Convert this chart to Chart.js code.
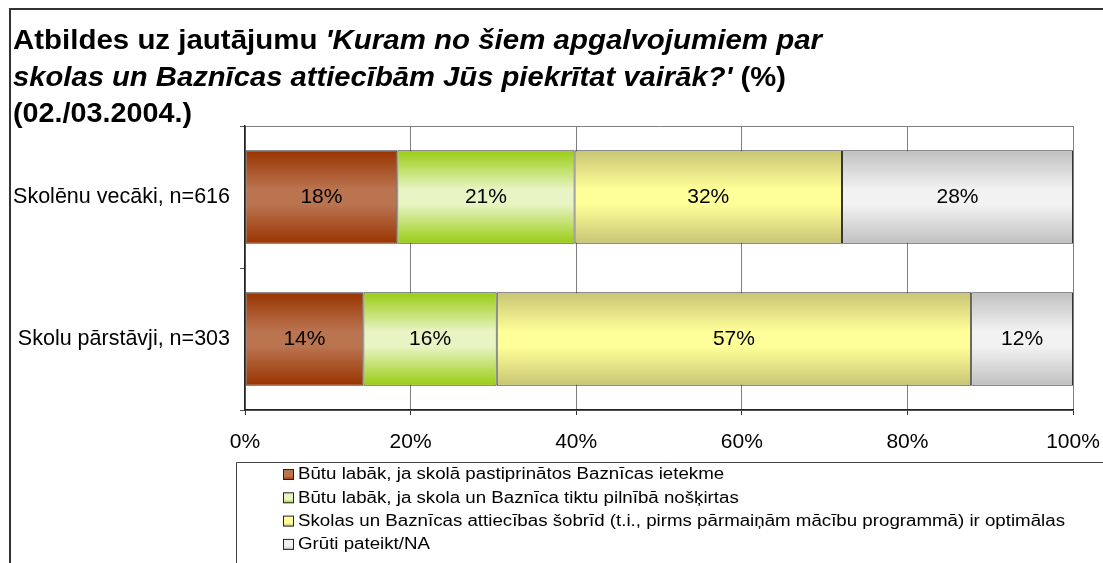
<!DOCTYPE html>
<html>
<head>
<meta charset="utf-8">
<script src="https://cdn.jsdelivr.net/npm/chart.js@4.4.1/dist/chart.umd.min.js"></script>
<style>
  body { margin: 0; background: #fff; }
  canvas { display: block; }
</style>
</head>
<body>
<canvas id="chart" width="1103" height="563"></canvas>
<script>
// dati
var groups = ["Skolēnu vecāki, n=616", "Skolu pārstāvji, n=303"];
var seriesNames = [
  "Būtu labāk, ja skolā pastiprinātos Baznīcas ietekme",
  "Būtu labāk, ja skola un Baznīca tiktu pilnībā nošķirtas",
  "Skolas un Baznīcas attiecības šobrīd (t.i., pirms pārmaiņām mācību programmā) ir optimālas",
  "Grūti pateikt/NA"
];
var stiprinat = [18.4, 14.3];
var noskirt = [21.4, 16.1];
var optimalas = [32.3, 57.3];
var grutiPateikt = [27.9, 12.3];
var xTicks = [0, 20, 40, 60, 80, 100];

var FONT = "'Liberation Sans', Arial, sans-serif";
var BAR_PCT = 0.66;

// krāsas: mala, vidus
var colors = [
  ["#993300", "#ba7450"],
  ["#99cc11", "#e8f4c4"],
  ["#c8c474", "#ffff99"],
  ["#c0c0c0", "#f2f2f2"]
];

function barGradient(pair) {
  return function(ctx) {
    var chart = ctx.chart;
    var ys = chart.scales.y;
    if (!ys || ctx.dataIndex === undefined || !ys.ticks || !ys.ticks.length) return pair[1];
    var c = ys.getPixelForValue(ctx.dataIndex);
    var half = (ys.height / ys.ticks.length) * BAR_PCT / 2;
    var g = chart.ctx.createLinearGradient(0, c - half, 0, c + half);
    g.addColorStop(0, pair[0]);
    g.addColorStop(0.42, pair[1]);
    g.addColorStop(0.58, pair[1]);
    g.addColorStop(1, pair[0]);
    return g;
  };
}

var seriesData = [stiprinat, noskirt, optimalas, grutiPateikt];

var datasets = seriesData.map(function(d, i) {
  return {
    label: seriesNames[i],
    data: d,
    backgroundColor: barGradient(colors[i]),
    borderColor: "#333333",
    borderWidth: 1,
    borderSkipped: false,
    barPercentage: BAR_PCT,
    categoryPercentage: 1
  };
});

// teksts, izstiepts horizontāli līdz vajadzīgajam platumam
function partsWidth(c, parts, size) {
  var w = 0;
  parts.forEach(function(p) {
    c.font = p[1] + size + "px " + FONT;
    w += c.measureText(p[0]).width;
  });
  return w;
}
function drawParts(c, parts, size, x, y, sx) {
  c.save();
  c.translate(x, y);
  c.scale(sx, 1);
  var px = 0;
  parts.forEach(function(p) {
    c.font = p[1] + size + "px " + FONT;
    c.fillText(p[0], px, 0);
    px += c.measureText(p[0]).width;
  });
  c.restore();
}

var decor = {
  id: "decor",
  beforeDraw: function(chart) {
    var c = chart.ctx;
    c.save();
    c.fillStyle = "#fff";
    c.fillRect(0, 0, chart.width, chart.height);
    c.strokeStyle = "#333";
    c.lineWidth = 2;
    c.beginPath();
    c.moveTo(10, 563); c.lineTo(10, 9); c.lineTo(1103, 9);
    c.stroke();
    c.lineWidth = 1;
    c.strokeStyle = "#444";
    c.beginPath();
    c.moveTo(236.5, 563); c.lineTo(236.5, 462.5); c.lineTo(1103, 462.5);
    c.stroke();

    // virsraksts
    var B = "bold ", BI = "italic bold ";
    var lines = [
      [["Atbildes uz jautājumu ", B], ["'Kuram no šiem apgalvojumiem par", BI]],
      [["skolas un Baznīcas attiecībām Jūs piekrītat vairāk?'", BI], [" (%)", B]],
      [["(02./03.2004.)", B]]
    ];
    var baselines = [49, 85.5, 122];
    var ends = [822, 786, 192];
    c.fillStyle = "#000";
    c.textBaseline = "alphabetic";
    c.textAlign = "left";
    lines.forEach(function(parts, li) {
      var w = partsWidth(c, parts, 27);
      drawParts(c, parts, 27, 13, baselines[li], (ends[li] - 13) / w);
    });
    c.restore();
  },
  afterDraw: function(chart) {
    var c = chart.ctx;
    c.save();
    // vērtības uz stabiņiem
    c.font = "21px " + FONT;
    c.fillStyle = "#000";
    c.textAlign = "center";
    c.textBaseline = "middle";
    chart.data.datasets.forEach(function(ds, di) {
      chart.getDatasetMeta(di).data.forEach(function(bar, i) {
        var cx = (bar.x + bar.base) / 2;
        c.fillText(Math.round(ds.data[i]) + "%", cx, bar.y);
      });
    });
    // leģenda
    c.textAlign = "left";
    var longest = partsWidth(c, [[chart.data.datasets[2].label, ""]], 16);
    var sx = (1065 - 298) / longest;
    chart.data.datasets.forEach(function(ds, di) {
      var cy = 475 + di * 23.3;
      var g = c.createLinearGradient(0, cy - 5, 0, cy + 5);
      g.addColorStop(0, colors[di][1]);
      g.addColorStop(0.6, colors[di][1]);
      g.addColorStop(1, colors[di][0]);
      c.fillStyle = g;
      c.fillRect(283.5, cy - 5.5, 10, 10);
      c.strokeStyle = "#222";
      c.lineWidth = 1;
      c.strokeRect(283.5, cy - 5.5, 10, 10);
      c.fillStyle = "#000";
      drawParts(c, [[ds.label, ""]], 16, 298, cy, sx);
    });
    c.restore();
  }
};

new Chart(document.getElementById("chart"), {
  type: "bar",
  data: { labels: groups, datasets: datasets },
  plugins: [decor],
  options: {
    indexAxis: "y",
    responsive: false,
    animation: false,
    devicePixelRatio: 1,
    layout: { padding: { top: 126, right: 30, left: 0, bottom: 0 } },
    plugins: { legend: { display: false }, tooltip: { enabled: false } },
    scales: {
      x: {
        stacked: true,
        min: 0,
        max: 100,
        afterBuildTicks: function(scale) {
          scale.ticks = xTicks.map(function(v) { return { value: v }; });
        },
        afterFit: function(scale) {
          scale.height = 153;
          scale.paddingLeft = 0;
          scale.paddingRight = 0;
        },
        ticks: {
          callback: function(v) { return v + "%"; },
          color: "#000",
          font: { size: 21, family: FONT },
          padding: 15,
          maxRotation: 0
        },
        grid: { color: "#808080", lineWidth: 1, tickLength: 5, tickColor: "#333" },
        border: { color: "#222", width: 1.5 }
      },
      y: {
        stacked: true,
        afterFit: function(scale) { scale.width = 245; },
        ticks: {
          color: "#000",
          font: { size: 21.5, family: FONT },
          padding: 10
        },
        grid: {
          offset: true,
          color: function(ctx) { return ctx.index === 1 ? "rgba(0,0,0,0)" : "#808080"; },
          tickColor: "#555",
          tickLength: 5,
          lineWidth: 1
        },
        border: { color: "#222", width: 1.5 }
      }
    }
  }
});
</script>
</body>
</html>
